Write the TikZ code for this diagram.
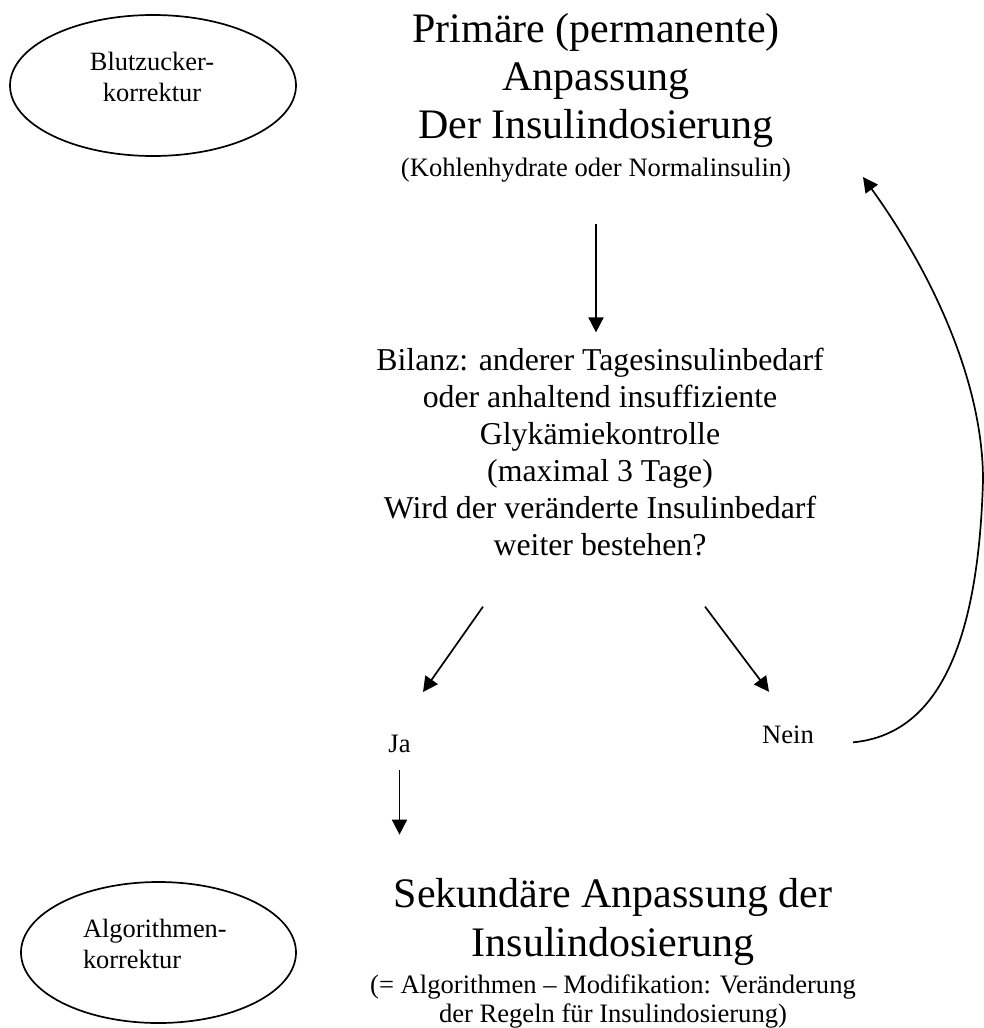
\documentclass[tikz,border=0pt]{standalone}
\usepackage{fontspec}
\setmainfont{Liberation Serif}
\usetikzlibrary{arrows.meta,shapes.geometric}
\begin{document}
\begin{tikzpicture}[x=1pt,y=-1pt,
  arr/.style={-{Triangle[length=15pt,width=15pt]}, line width=1.7pt},
  oval/.style={draw, ellipse, line width=1.7pt, inner sep=0pt},
  ovaltext/.style={inner sep=0pt, anchor=base, font=\fontsize{26.4}{31.5}\selectfont},
  bigtxt/.style={align=flush center, inner sep=0pt, anchor=base, text width=560pt},
  smalltxt/.style={inner sep=0pt, anchor=base, font=\fontsize{26.6}{30}\selectfont}
]
\useasboundingbox (0,0) rectangle (984,1028);

\node[oval, minimum width=286pt, minimum height=141pt] (bz) at (153,85.5) {};
\node[ovaltext, align=flush center, text width=200pt] (bzt) at (152,70) {Blutzucker-\\korrektur};
\node[oval, minimum width=275pt, minimum height=141pt] (alg) at (158.5,952.5) {};
\node[ovaltext, align=flush left, text width=200pt] (algt) at (183,937) {Algorithmen-\\korrektur};

\node[bigtxt, font=\fontsize{42}{48}\selectfont] (prim) at (596,42)
  {Primäre (permanente)\\Anpassung\\Der Insulindosierung\\[-10pt]{\fontsize{26.6}{30}\selectfont (Kohlenhydrate oder Normalinsulin)}};

\node[bigtxt, font=\fontsize{31.8}{37}\selectfont] (bil) at (600,370)
  {Bilanz: anderer Tagesinsulinbedarf\\oder anhaltend insuffiziente\\Glykämiekontrolle\\(maximal 3 Tage)\\Wird der veränderte Insulinbedarf\\weiter bestehen?};

\node[bigtxt, font=\fontsize{42}{49}\selectfont] (sek) at (613,907)
  {Sekundäre Anpassung der\\Insulindosierung\\[7pt]{\fontsize{26.6}{30}\selectfont (= Algorithmen – Modifikation: Veränderung\\[-20pt]der Regeln für Insulindosierung)}};

\node[smalltxt] (ja) at (399.5,752) {Ja};
\node[smalltxt] (nein) at (788,743) {Nein};
\coordinate (back) at (863,177);

\draw[arr, shorten <=42pt, shorten >=15pt] (prim.south) -- (prim.south |- bil.north);
\draw[arr] ([shift={(-117,51)}]bil.south) -- ([shift={(23.5,-42.4)}]ja.north);
\draw[arr] ([shift={(105,51)}]bil.south) -- ([shift={(-19,-33.4)}]nein.north);
\draw[arr, shorten <=18pt, shorten >=43pt] (ja.south) -- (ja.south |- sek.north);
\draw[arr] ([shift={(39,8)}]nein.east)
  .. controls (930,735) and (978,660) .. (983,480)
  .. controls (983,380) and (930,270) .. (back);
\end{tikzpicture}
\end{document}
